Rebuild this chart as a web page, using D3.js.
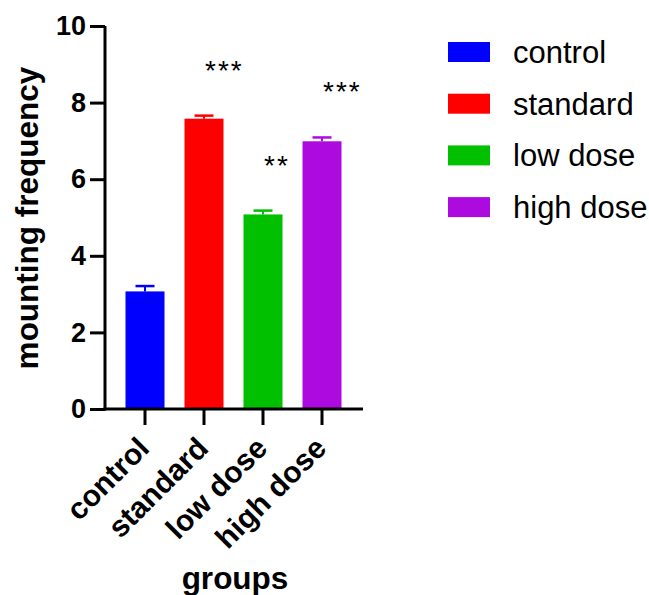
<!DOCTYPE html>
<html><head><meta charset="utf-8">
<script src="https://cdn.jsdelivr.net/npm/d3@7"></script>
<style>
body{margin:0;background:#fff;}
svg{display:block;font-family:"Liberation Sans",Arial,sans-serif;}
</style></head>
<body><svg id="c" width="649" height="595"></svg>
<script>
const categories = ["control","standard","low dose","high dose"];
const means = [3.07, 7.58, 5.08, 6.99];
const errors = [0.14, 0.08, 0.10, 0.10];
const stars = ["", "***", "**", "***"];
const colors = ["#0000ff","#ff0000","#00c000","#ad0ae0"];
const yTicks = [0,2,4,6,8,10];

const svg = d3.select("#c");
const y = d3.scaleLinear().domain([0,10]).range([409,26]);
const x = d3.scaleBand().domain(categories).range([115.5,351.5]).paddingInner(20/59).paddingOuter(10/59);
const axisX0 = 105, axisX1 = 363;

// bars
svg.selectAll("rect.bar").data(categories).enter().append("rect")
  .attr("x", d=>x(d)).attr("width", x.bandwidth())
  .attr("y", (d,i)=>y(means[i])).attr("height", (d,i)=>y(0)-y(means[i]))
  .attr("fill", (d,i)=>colors[i]);

// error bars (upper)
const cap = 19;
categories.forEach((d,i)=>{
  const cx = x(d)+x.bandwidth()/2;
  svg.append("line").attr("x1",cx).attr("x2",cx).attr("y1",y(means[i])).attr("y2",y(means[i]+errors[i]))
    .attr("stroke",colors[i]).attr("stroke-width",2);
  svg.append("line").attr("x1",cx-cap/2).attr("x2",cx+cap/2).attr("y1",y(means[i]+errors[i])).attr("y2",y(means[i]+errors[i]))
    .attr("stroke",colors[i]).attr("stroke-width",2.5);
  if(stars[i]){
    svg.append("text").attr("x",cx+1).attr("y",y(means[i]+errors[i])-36)
      .attr("text-anchor","start").attr("font-size",28).attr("letter-spacing",2).attr("fill","#000")
      .text(stars[i]);
  }
});

// y axis
const gy = svg.append("g").attr("transform",`translate(${axisX0},0)`)
  .call(d3.axisLeft(y).tickValues(yTicks).tickSize(15).tickPadding(4).tickFormat(d3.format("d")));
gy.select(".domain").attr("stroke","#000").attr("stroke-width",3).attr("d",`M0,${y(10)}V${y(0)+1.5}`);
gy.selectAll(".tick line").attr("stroke","#000").attr("stroke-width",3);
gy.selectAll(".tick text").attr("font-size",27).attr("font-weight","bold").attr("fill","#000")
  .attr("font-family","'Liberation Sans',Arial,sans-serif");

// x axis
const gx = svg.append("g").attr("transform",`translate(0,${y(0)})`)
  .call(d3.axisBottom(x).tickSize(16).tickFormat(""));
gx.select(".domain").attr("stroke","#000").attr("stroke-width",3).attr("d",`M${axisX0-1.5},0H${axisX1}`);
gx.selectAll(".tick line").attr("stroke","#000").attr("stroke-width",3);
gx.selectAll(".tick").append("text")
  .attr("transform","translate(6,41) rotate(-45)")
  .attr("text-anchor","end").attr("font-size",30).attr("font-weight","bold").attr("fill","#000")
  .attr("font-family","'Liberation Sans',Arial,sans-serif")
  .text(d=>d);

// axis titles
svg.append("text").attr("transform","translate(38,218) rotate(-90)")
  .attr("text-anchor","middle").attr("font-size",31.5).attr("font-weight","bold").text("mounting frequency");
svg.append("text").attr("x",235).attr("y",589)
  .attr("text-anchor","middle").attr("font-size",31.5).attr("font-weight","bold").text("groups");

// legend
const lg = svg.append("g").attr("transform","translate(448,42)");
categories.forEach((d,i)=>{
  const g = lg.append("g").attr("transform",`translate(0,${i*51.7})`);
  g.append("rect").attr("width",42).attr("height",20).attr("fill",colors[i]);
  g.append("text").attr("x",65).attr("y",21).attr("font-size",31).attr("fill","#000").text(d);
});
</script></body></html>
